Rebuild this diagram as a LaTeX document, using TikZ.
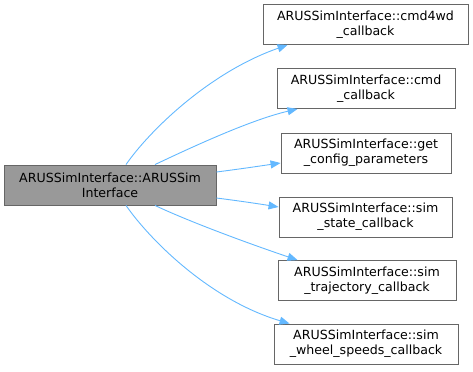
\documentclass[tikz,border=0pt]{standalone}
\usepackage{fontspec}
\setmainfont{DejaVu Sans}
\usetikzlibrary{arrows.meta}
\definecolor{edgeblue}{HTML}{63B8FF}
\definecolor{boxline}{HTML}{666666}
\definecolor{callerfill}{HTML}{999999}
\begin{document}
\begin{tikzpicture}[x=1bp,y=-1bp,
  fn/.style={draw=boxline,line width=0.9bp,fill=white,minimum height=40bp,
    inner sep=0pt,align=center,font=\fontsize{12.6bp}{15bp}\selectfont},
  caller/.style={fn,fill=callerfill},
  call/.style={draw=edgeblue,line width=0.9bp,
    -{Triangle[length=10bp,width=8bp]}}]
\useasboundingbox (0,0) rectangle (473,371);

% caller
\node[caller,minimum width=212bp] (main) at (110,185) {ARUSSimInterface::ARUSSim\\Interface};

% callees
\node[fn,minimum width=205bp] (c1) at (365.5,24.5) {ARUSSimInterface::cmd4wd\\\_callback};
\node[fn,minimum width=178bp] (c2) at (366,88.5) {ARUSSimInterface::cmd\\\_callback};
\node[fn,minimum width=170bp] (c3) at (366,153) {ARUSSimInterface::get\\\_config\_parameters};
\node[fn,minimum width=173bp] (c4) at (365.5,217) {ARUSSimInterface::sim\\\_state\_callback};
\node[fn,minimum width=178bp] (c5) at (367,280.5) {ARUSSimInterface::sim\\\_trajectory\_callback};
\node[fn,minimum width=184bp] (c6) at (366,344) {ARUSSimInterface::sim\\\_wheel\_speeds\_callback};

% calls
\draw[call] ([xshift=16bp]main.north) .. controls (150,130) and (210,72) .. ([xshift=25bp]c1.south west);
\draw[call] ([xshift=45bp]main.north) .. controls (190,148) and (250,120) .. ([xshift=21bp]c2.south west);
\draw[call] ([yshift=13bp]main.east) .. controls (240,169) and (260,166) .. ([yshift=-10bp]c3.west);
\draw[call] ([yshift=-13bp]main.east) .. controls (240,201) and (260,204) .. ([yshift=10bp]c4.west);
\draw[call] ([xshift=45bp]main.south) .. controls (190,222) and (250,244) .. ([xshift=20bp]c5.north west);
\draw[call] ([xshift=16bp]main.south) .. controls (150,240) and (210,300) .. ([xshift=16bp]c6.north west);
\end{tikzpicture}
\end{document}
